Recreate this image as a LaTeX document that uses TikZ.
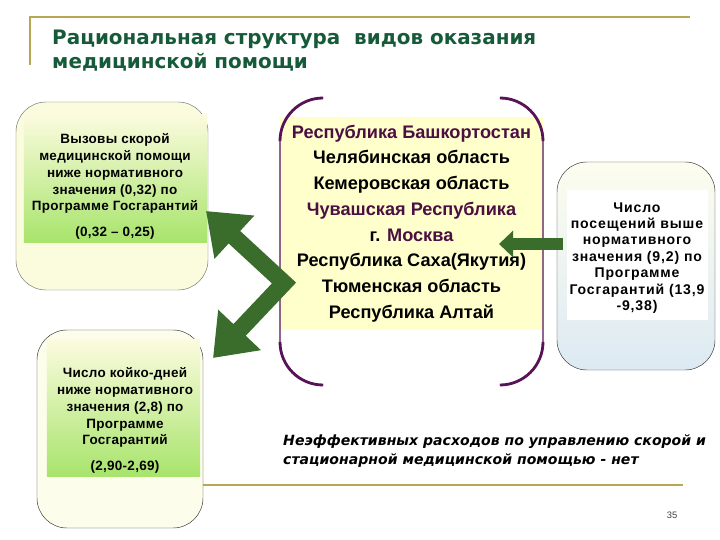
\documentclass[tikz,border=0pt]{standalone}
\usepackage{fontspec}
\setmainfont{Liberation Sans}
\newfontfamily\verdanalike{DejaVu Sans}
\usetikzlibrary{arrows.meta}

\definecolor{goldline}{RGB}{186,165,82}
\definecolor{titlegreen}{RGB}{22,90,58}
\definecolor{bracketpurple}{RGB}{88,18,88}
\definecolor{textpurple}{RGB}{75,15,65}
\definecolor{arrowgreen}{RGB}{58,108,44}
\definecolor{cream}{RGB}{251,251,222}
\definecolor{leafgreen}{RGB}{168,228,108}
\definecolor{regionfill}{RGB}{255,255,204}
\definecolor{mistblue}{RGB}{221,234,243}

\begin{document}
\begin{tikzpicture}[
        x=0.03cm, y=-0.03cm,
        framebox/.style={
            rectangle,
            rounded corners=0.9cm,
            draw=black!80,
            thin,
            inner sep=0pt,
            outer sep=0pt
        },
        band/.style={
            rectangle,
            inner sep=0pt,
            outer sep=0pt,
            top color=cream,
            bottom color=leafgreen
        },
        boxtext/.style={
            align=center,
            inner sep=0pt,
            font=\fontsize{11.5}{14.5}\selectfont\bfseries\addfontfeatures{LetterSpace=2}
        },
        rule/.style={
            draw=goldline,
            line width=1.8pt
        },
        bracketline/.style={
            draw=bracketpurple,
            rounded corners=1.29cm
        },
        fatarrow/.style={
            draw=arrowgreen,
            line width=14.5pt,
            line join=miter
        }
    ]

    \fill[white] (0,0) rectangle (720,540);
    \useasboundingbox (0,0) rectangle (720,540);

    % frame lines of the slide
    \draw[rule] (30,65) -- (30,17) -- (690,17);
    \draw[rule] (200,485) -- (683,485);

    \node[anchor=north west, inner sep=0pt, align=left, text=titlegreen,
          font=\verdanalike\fontsize{17}{20.5}\selectfont\bfseries] (title) at (52,30)
          {Рациональная структура\ \ видов оказания\\медицинской помощи};

    % left boxes
    \node[framebox, draw=black!55, fill=cream, minimum width=5.76cm, minimum height=5.64cm] (callbox) at (112,196) {};
    \node[band, minimum width=5.49cm, minimum height=3.81cm] (callband) at (115.5,178.5) {};
    \node[boxtext] (calltext) at (115,186)
          {Вызовы скорой\\медицинской помощи\\ниже нормативного\\значения (0,32) по\\Программе Госгарантий\\[7pt](0,32 – 0,25)};

    \node[framebox, fill=cream!60!white, minimum width=4.98cm, minimum height=5.94cm] (bedbox) at (120,429) {};
    \node[band, minimum width=4.59cm, minimum height=4.08cm] (bedband) at (123.5,408) {};
    \node[boxtext] (bedtext) at (125,420)
          {Число койко-дней\\ниже нормативного\\значения (2,8) по\\Программе\\Госгарантий\\[7pt](2,90-2,69)};

    % regions in the middle
    \node[rectangle, fill=regionfill, minimum width=7.89cm, minimum height=6.39cm, inner sep=0pt,
          align=center, font=\fontsize{15.5}{22}\selectfont\bfseries] (regionbox) at (411.5,223.5)
          {\textcolor{textpurple}{Республика Башкортостан}\\
           Челябинская область\\
           Кемеровская область\\
           \textcolor{textpurple}{Чувашская Республика}\\
           г. \textcolor{textpurple}{Москва}\\
           Республика Саха(Якутия)\\
           Тюменская область\\
           Республика Алтай};

    \draw[bracketline, line width=0.9pt] (323,98) -- (280,98) -- (280,385) -- (323,385);
    \draw[bracketline, line width=0.9pt] (500,98) -- (543,98) -- (543,385) -- (500,385);
    \draw[bracketline, line width=2.4pt] (323,98) -- (280,98) -- (280,141);
    \draw[bracketline, line width=2.4pt] (280,342) -- (280,385) -- (323,385);
    \draw[bracketline, line width=2.4pt] (500,98) -- (543,98) -- (543,141);
    \draw[bracketline, line width=2.4pt] (543,342) -- (543,385) -- (500,385);

    % right box
    \node[framebox, top color=cream!50!white, bottom color=mistblue, minimum width=4.74cm, minimum height=6.24cm] (visitbox) at (636,266) {};
    \node[rectangle, fill=white, inner sep=0pt, minimum width=4.23cm, minimum height=3.9cm] (visitband) at (637.5,255) {};
    \node[boxtext, font=\fontsize{12}{14}\selectfont\bfseries\addfontfeatures{LetterSpace=6}] (visittext) at (637,258)
          {Число\\посещений выше\\нормативного\\значения (9,2) по\\Программе\\Госгарантий (13,9\\-9,38)};

    % arrows
    \coordinate (fork) at (284,283);
    \coordinate (calltip) at (206,211);
    \coordinate (bedtip) at (213,358);
    \coordinate (visitfoot) at (563,244);
    \coordinate (moscowtip) at (499,244);

    \draw[fatarrow, {Triangle[length=33pt,width=48pt]}-{Triangle[length=33pt,width=48pt]}] (calltip) -- (fork) -- (bedtip);
    \draw[fatarrow, line width=11pt, -{Triangle[length=12pt,width=22pt]}] (visitfoot) -- (moscowtip);

    \node[anchor=north west, inner sep=0pt, align=left,
          font=\verdanalike\fontsize{12}{16}\selectfont\bfseries\itshape] (note) at (283,435)
          {Неэффективных расходов по управлению скорой и\\стационарной медицинской помощью - нет};

    \node[font=\fontsize{8}{9}\selectfont, text=black!75] (pageno) at (672,515) {35};

\end{tikzpicture}
\end{document}
